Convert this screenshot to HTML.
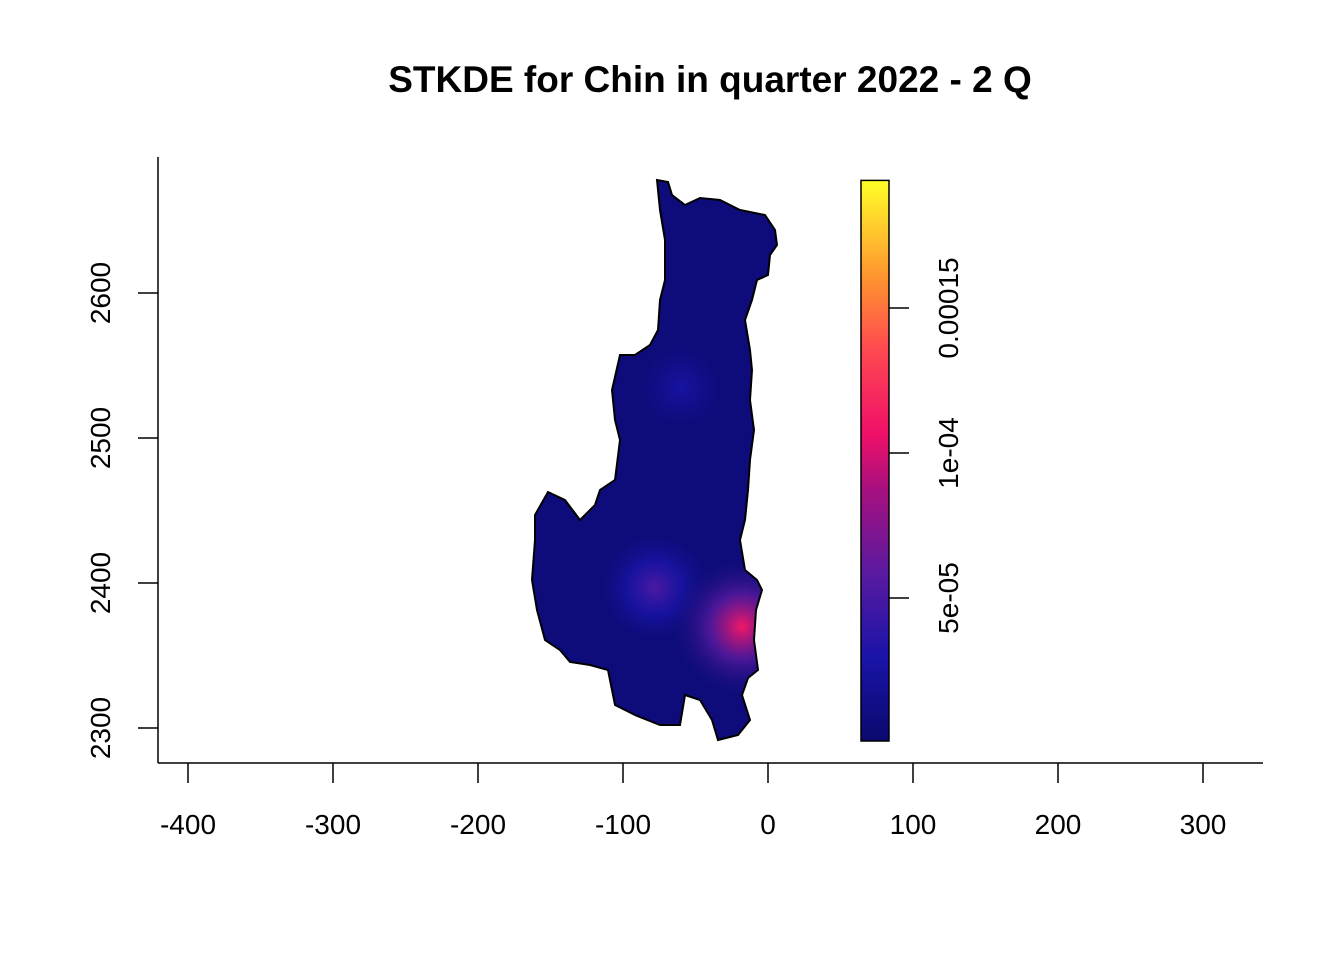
<!DOCTYPE html>
<html><head><meta charset="utf-8"><style>
body{margin:0;background:#fff;}
svg text{font-family:"Liberation Sans",Arial,sans-serif;}
</style></head><body>
<svg id="chart" width="1344" height="960" xmlns="http://www.w3.org/2000/svg">
<defs>
<clipPath id="regionClip"><path id="clipPath" d=""/></clipPath>
<linearGradient id="cbGrad" x1="0" y1="1" x2="0" y2="0">
<stop offset="0" stop-color="#0a0a6e"/>
<stop offset="0.15" stop-color="#1a14a8"/>
<stop offset="0.3" stop-color="#5a1aa0"/>
<stop offset="0.45" stop-color="#a8107f"/>
<stop offset="0.55" stop-color="#f01068"/>
<stop offset="0.7" stop-color="#ff4a50"/>
<stop offset="0.82" stop-color="#ff9030"/>
<stop offset="1" stop-color="#ffff28"/>
</linearGradient>
</defs>
<text x="710" y="92" text-anchor="middle" font-size="37" font-weight="bold">STKDE for Chin in quarter 2022 - 2 Q</text>
<g id="axes"></g>
<g id="map"></g>
<g id="colorbar"></g>
</svg>
<script>
const xTicks=[-400,-300,-200,-100,0,100,200,300];
const yTicks=[2300,2400,2500,2600];
const cbTicks=[5e-5,1e-4,1.5e-4];
const cbTickLabels=["5e-05","1e-04","0.00015"];
const cbMax=1.94e-4;
const hotX=[-60,-78,-18];
const hotY=[2535,2397,2370];
const hotVal=[2.6e-5,5.2e-5,1.1e-4];
const hotR=[24,30,36];
const baseVal=6e-6;
const outline=[[657,180],[668,182],[672,195],[685,205],[700,198],[720,200],[740,210],[765,215],[775,230],[777,245],[770,255],[768,275],[757,280],[752,300],[745,320],[750,350],[752,370],[750,400],[754,430],[750,460],[748,490],[745,520],[740,540],[745,570],[757,580],[762,590],[756,610],[754,640],[758,670],[748,678],[742,695],[750,720],[738,735],[718,740],[712,720],[700,700],[685,695],[680,725],[660,725],[635,715],[615,705],[608,670],[590,665],[570,662],[560,650],[545,640],[537,610],[532,580],[535,540],[535,515],[548,492],[565,500],[580,520],[595,505],[600,490],[615,480],[620,440],[615,420],[612,390],[620,355],[635,355],[650,345],[658,330],[660,300],[665,280],[665,240],[660,210]];
const NS="http://www.w3.org/2000/svg";
const xs=v=>768+1.45*v, ys=v=>728-(v-2300)*1.45;
const cbY=v=>743-v/5e-5*145;
function mk(t,a,p){const e=document.createElementNS(NS,t);for(const k in a)e.setAttribute(k,a[k]);p.appendChild(e);return e;}
function col(v){const f=Math.min(1,v/cbMax);
const st=[[0,[10,10,110]],[0.15,[26,20,168]],[0.3,[90,26,160]],[0.45,[168,16,127]],[0.55,[240,16,104]],[0.7,[255,74,80]],[0.82,[255,144,48]],[1,[255,255,40]]];
for(let i=1;i<st.length;i++){if(f<=st[i][0]){const a=st[i-1],b=st[i],t=(f-a[0])/(b[0]-a[0]);return 'rgb('+a[1].map((c,j)=>Math.round(c+(b[1][j]-c)*t)).join(',')+')';}}return 'rgb(255,255,40)';}
const ax=document.getElementById('axes');
let l=mk('line',{x1:158,y1:763,x2:1263,y2:763,stroke:'#000','stroke-width':1.5},ax);

l=mk('line',{x1:158,y1:157,x2:158,y2:763,stroke:'#000','stroke-width':1.5},ax);

xTicks.forEach(v=>{const x=xs(v);
const t=mk('line',{x1:x,y1:763,x2:x,y2:783,stroke:'#000','stroke-width':1.5},ax);

const tx=mk('text',{x:x,y:834,'text-anchor':'middle','font-size':28},ax);tx.textContent=v;
});
yTicks.forEach(v=>{const y=ys(v);
const t=mk('line',{x1:138,y1:y,x2:158,y2:y,stroke:'#000','stroke-width':1.5},ax);

const tx=mk('text',{x:110,y:y,'text-anchor':'middle','font-size':28,transform:'rotate(-90 110 '+y+')'},ax);tx.textContent=v;
});
const d='M'+outline.map(p=>p.join(',')).join('L')+'Z';
document.getElementById('clipPath').setAttribute('d',d);
const mp=document.getElementById('map');
const g=mk('g',{'clip-path':'url(#regionClip)'},mp);
let bg=mk('rect',{x:500,y:170,width:300,height:600,fill:col(baseVal)},g);

mk('defs',{},g);
hotX.forEach((hx,i)=>{
const id='hg'+i;const gr=mk('radialGradient',{id:id},g.querySelector('defs'));
mk('stop',{offset:'0','stop-color':col(hotVal[i]),'stop-opacity':1},gr);
mk('stop',{offset:'0.45','stop-color':col((hotVal[i]+baseVal)/2),'stop-opacity':0.8},gr);
mk('stop',{offset:'1','stop-color':col(baseVal),'stop-opacity':0},gr);
const r=hotR[i]*1.45*1.4;
const c=mk('circle',{cx:xs(hx),cy:ys(hotY[i]),r:r,fill:'url(#'+id+')'},g);
});
const ol=mk('path',{d:d,fill:'none',stroke:'#000','stroke-width':2},mp);

const cb=document.getElementById('colorbar');
const r=mk('rect',{x:861,y:cbY(cbMax),width:28,height:743-cbY(cbMax)-2,fill:'url(#cbGrad)',stroke:'#000','stroke-width':1.5},cb);

cbTicks.forEach((v,i)=>{const y=cbY(v);
const t=mk('line',{x1:889,y1:y,x2:909,y2:y,stroke:'#000','stroke-width':1.5},cb);

const tx=mk('text',{x:958,y:y,'text-anchor':'middle','font-size':28,transform:'rotate(-90 958 '+y+')'},cb);tx.textContent=cbTickLabels[i];
});
</script>
</body></html>
